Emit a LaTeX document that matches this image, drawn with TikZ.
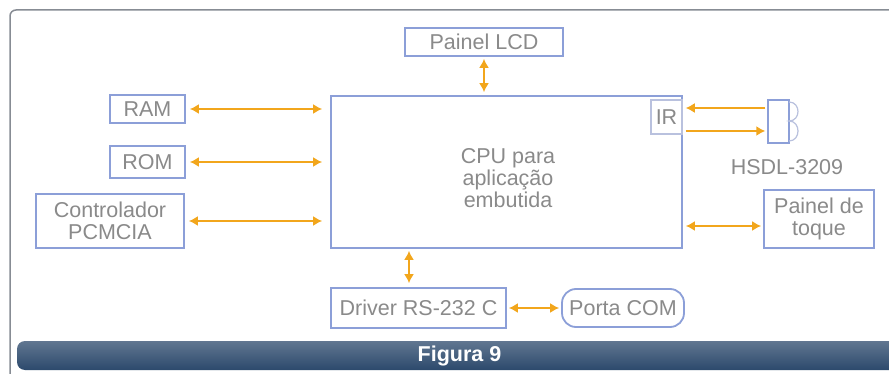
\documentclass[tikz,border=0pt]{standalone}
\usepackage{fontspec}
\setmainfont{Liberation Sans}
\usepackage{xcolor}
\usetikzlibrary{arrows.meta}

\definecolor{boxblue}{HTML}{8C9FD8}
\definecolor{irblue}{HTML}{B9C1DE}
\definecolor{txtgray}{HTML}{8A8A8A}
\definecolor{arrorange}{HTML}{F2A61C}
\definecolor{barblue}{HTML}{2C496C}
\definecolor{framegray}{HTML}{878C94}

\begin{document}
\begin{tikzpicture}[x=1pt, y=-1pt,
  blk/.style={draw=boxblue, line width=1.8pt, text=txtgray, inner sep=0pt,
    align=center, font=\fontsize{21.5}{22}\selectfont},
  txt/.style={text=txtgray, inner sep=0pt, align=center, font=\fontsize{21.5}{22}\selectfont},
  link/.style={draw=arrorange, line width=1.5pt,
    {Latex[length=9pt,width=10pt]}-{Latex[length=9pt,width=10pt]}},
  onelink/.style={draw=arrorange, line width=1.5pt, -{Latex[length=9pt,width=10pt]}}]

\fill[white] (0,0) rectangle (889,374);
\useasboundingbox (0,0) rectangle (889,374);

% frame and caption bar
\draw[framegray, line width=1.5pt, rounded corners=6pt] (10,380) -- (10,10) -- (895,10);
\shade[top color=barblue!75!white, bottom color=barblue, rounded corners=8pt]
  (17,341) rectangle (905,370);
\node[text=white, font=\fontsize{21.5}{22}\selectfont\bfseries] (fig) at (459.5,355.5) {Figura 9};

% blocks
\node[blk, minimum width=351pt, minimum height=152pt] (cpu) at (506.5,172) {};
\node[txt] (cputxt) at (508,178) {CPU para\\aplicação\\embutida};
\node[draw=irblue, line width=1.5pt, text=txtgray, inner sep=0pt, minimum width=31pt,
  minimum height=34pt, font=\fontsize{21.5}{22}\selectfont] (ir) at (666.5,117) {IR};
\node[blk, minimum width=158pt, minimum height=28pt] (lcd) at (484,42) {Painel LCD};
\node[blk, minimum width=75pt, minimum height=28pt] (ram) at (147.5,109) {RAM};
\node[blk, minimum width=75pt, minimum height=32pt] (rom) at (147.5,162) {ROM};
\node[blk, minimum width=148pt, minimum height=54pt] (pcmcia) at (110,221) {Controlador\\PCMCIA};
\node[blk, minimum width=175pt, minimum height=40pt] (driver) at (418.5,308) {Driver RS-232 C};
\node[blk, minimum width=122pt, minimum height=38pt, rounded corners=14pt] (com) at (623,308) {Porta COM};
\node[blk, minimum width=110pt, minimum height=58pt] (touch) at (819,219) {Painel de\\toque};

% infrared transceiver
\node[draw=boxblue, line width=1.5pt, inner sep=0pt, minimum width=21pt,
  minimum height=43pt] (hsdl) at (778.5,121.5) {};
\draw[irblue, line width=1.2pt] (789,102) .. controls (801,102) and (801,121) .. (789,121)
  .. controls (801,121) and (801,141) .. (789,141);
\node[txt] (hsdllbl) at (787,167) {HSDL-3209};

% links
\foreach \src in {ram,rom,pcmcia}
  \draw[link, shorten <=4pt, shorten >=8pt] (\src.east) -- (\src.east -| cpu.west);
\draw[link, shorten <=2pt, shorten >=3pt] (lcd.south) -- (lcd.south |- cpu.north);
\coordinate (dv) at ([xshift=-9.5pt]driver.north);
\draw[link, shorten <=4pt, shorten >=2pt] (dv) -- (dv |- cpu.south);
\draw[link, shorten <=2pt, shorten >=2pt] (driver.east) -- (com.west);
\coordinate (tp) at ([yshift=-7pt]touch.west);
\draw[link, shorten <=2pt, shorten >=3pt] (tp) -- (tp -| cpu.east);
\coordinate (irin) at ([yshift=13.5pt]hsdl.west);
\coordinate (irout) at ([yshift=-9.5pt]hsdl.west);
\draw[onelink, shorten <=2pt, shorten >=3pt] (irin) -- (irin -| ir.east);
\draw[onelink, shorten <=3pt, shorten >=2pt] (irout -| ir.east) -- (irout);
\end{tikzpicture}
\end{document}
